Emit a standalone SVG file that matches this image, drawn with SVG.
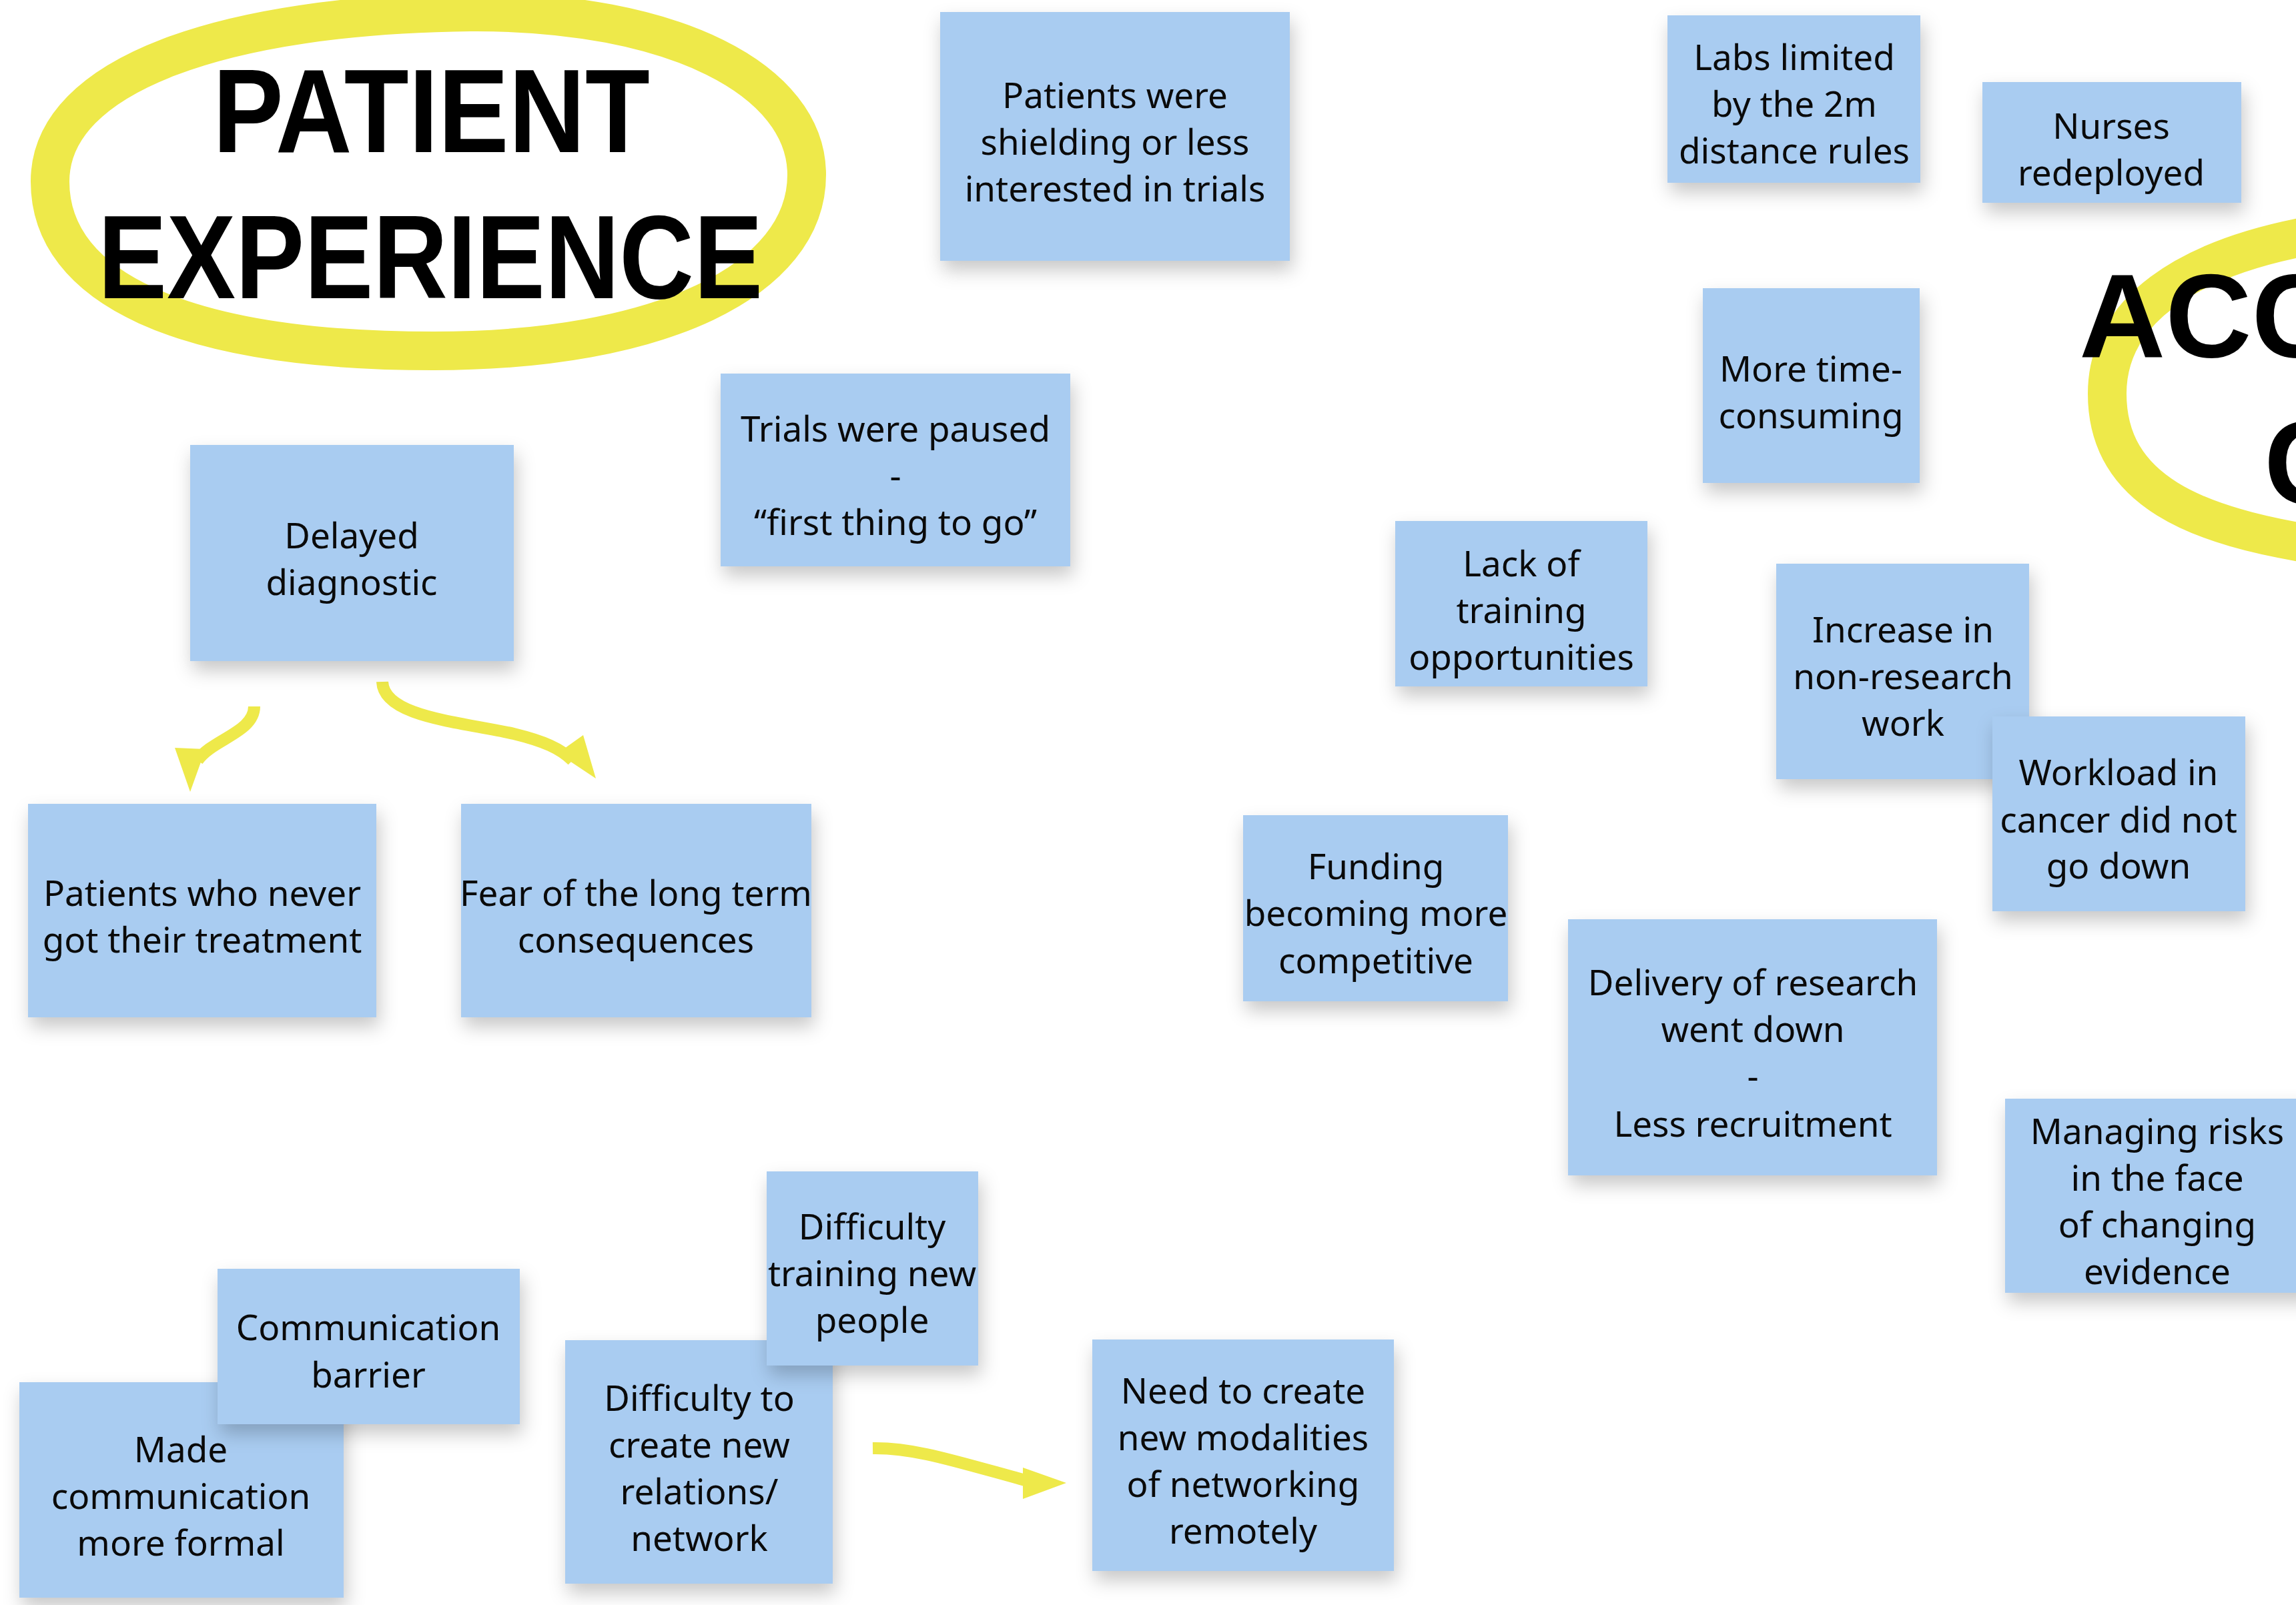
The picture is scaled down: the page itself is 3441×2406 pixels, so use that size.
<svg xmlns="http://www.w3.org/2000/svg" width="3441" height="2406" viewBox="0 0 3441 2406">
<defs>
<filter id="sh" x="-20%" y="-20%" width="150%" height="160%">
<feDropShadow dx="4" dy="14" stdDeviation="14" flood-color="#000" flood-opacity="0.22"/>
</filter>
<style>
.note{fill:#A9CCF1;filter:url(#sh)}
.t{font-family:"Noto Sans","Open Sans",sans-serif;font-size:53px;fill:#0a0a0a;text-anchor:middle}
.big{font-family:"Liberation Sans",Arial,sans-serif;font-weight:bold;font-size:179px;fill:#000}
.ring{fill:none;stroke:#EEE94A;stroke-width:58;stroke-linecap:round}
.con{fill:none;stroke:#EEE94A;stroke-width:18}
.head{fill:#EEE94A}
</style>
</defs>
<rect width="3441" height="2406" fill="#fff"/>

<g id="title-patient-experience">
<path class="ring" d="M705,18 C1010,16 1209,120 1209,262 C1209,420 990,526 650,526 C270,526 75,430 75,272 C75,110 340,22 705,18 Z"/>
<text class="big" x="319" y="228" textLength="655" lengthAdjust="spacingAndGlyphs">PATIENT</text>
<text class="big" x="147" y="447" textLength="996" lengthAdjust="spacingAndGlyphs">EXPERIENCE</text>
</g>

<g id="title-acc">
<path class="ring" d="M3480,350 C3270,385 3158,470 3158,590 C3158,735 3290,790 3480,818"/>
<text class="big" x="3116" y="535">ACC</text>
<text class="big" x="3393" y="755">C</text>
</g>

<g id="connectors">
<path class="con" d="M381,1059 C381,1098 318,1108 296,1140"/>
<polygon class="head" points="262,1121 308,1123 285,1187"/>
<path class="con" d="M573,1022 C575,1075 690,1082 770,1100 C815,1111 840,1122 858,1140"/>
<polygon class="head" points="874,1102 836,1129 893,1167"/>
<path class="con" d="M1308,2171 C1370,2170 1430,2190 1540,2220"/>
<polygon class="head" points="1533,2200 1533,2247 1598,2223"/>
</g>

<g id="n-patients-shielding">
<rect class="note" x="1409" y="18" width="524" height="373"/>
<text class="t" x="1671" y="162">Patients were</text>
<text class="t" x="1671" y="232">shielding or less</text>
<text class="t" x="1671" y="302">interested in trials</text>
</g>

<g id="n-labs-limited">
<rect class="note" x="2499" y="23" width="379" height="251"/>
<text class="t" x="2689" y="105">Labs limited</text>
<text class="t" x="2689" y="175">by the 2m</text>
<text class="t" x="2689" y="245">distance rules</text>
</g>

<g id="n-nurses">
<rect class="note" x="2971" y="123" width="388" height="181"/>
<text class="t" x="3164" y="208">Nurses</text>
<text class="t" x="3164" y="278">redeployed</text>
</g>

<g id="n-more-time">
<rect class="note" x="2552" y="432" width="325" height="292"/>
<text class="t" x="2714" y="572">More time-</text>
<text class="t" x="2714" y="642">consuming</text>
</g>

<g id="n-trials-paused">
<rect class="note" x="1080" y="560" width="524" height="289"/>
<text class="t" x="1342" y="662">Trials were paused</text>
<text class="t" x="1342" y="732">-</text>
<text class="t" x="1342" y="802">“first thing to go”</text>
</g>

<g id="n-delayed">
<rect class="note" x="285" y="667" width="485" height="324"/>
<text class="t" x="527" y="822">Delayed</text>
<text class="t" x="527" y="892">diagnostic</text>
</g>

<g id="n-lack-training">
<rect class="note" x="2091" y="781" width="378" height="248"/>
<text class="t" x="2280" y="864">Lack of</text>
<text class="t" x="2280" y="934">training</text>
<text class="t" x="2280" y="1004">opportunities</text>
</g>

<g id="n-increase">
<rect class="note" x="2662" y="845" width="379" height="323"/>
<text class="t" x="2852" y="963">Increase in</text>
<text class="t" x="2852" y="1033">non-research</text>
<text class="t" x="2852" y="1103">work</text>
</g>

<g id="n-workload">
<rect class="note" x="2986" y="1074" width="379" height="292"/>
<text class="t" x="3175" y="1177">Workload in</text>
<text class="t" x="3175" y="1248">cancer did not</text>
<text class="t" x="3175" y="1317">go down</text>
</g>

<g id="n-patients-never">
<rect class="note" x="42" y="1205" width="522" height="320"/>
<text class="t" x="303" y="1358">Patients who never</text>
<text class="t" x="303" y="1428">got their treatment</text>
</g>

<g id="n-fear">
<rect class="note" x="691" y="1205" width="525" height="320"/>
<text class="t" x="953" y="1358">Fear of the long term</text>
<text class="t" x="953" y="1428">consequences</text>
</g>

<g id="n-funding">
<rect class="note" x="1863" y="1222" width="397" height="279"/>
<text class="t" x="2062" y="1318">Funding</text>
<text class="t" x="2062" y="1388">becoming more</text>
<text class="t" x="2062" y="1459">competitive</text>
</g>

<g id="n-delivery">
<rect class="note" x="2350" y="1378" width="553" height="384"/>
<text class="t" x="2627" y="1492">Delivery of research</text>
<text class="t" x="2627" y="1562">went down</text>
<text class="t" x="2627" y="1632">-</text>
<text class="t" x="2627" y="1704">Less recruitment</text>
</g>

<g id="n-managing">
<rect class="note" x="3005" y="1647" width="460" height="291"/>
<text class="t" x="3233" y="1715">Managing risks</text>
<text class="t" x="3233" y="1785">in the face</text>
<text class="t" x="3233" y="1855">of changing</text>
<text class="t" x="3233" y="1925">evidence</text>
</g>

<g id="n-made-formal">
<rect class="note" x="29" y="2072" width="486" height="323"/>
<text class="t" x="271" y="2192">Made</text>
<text class="t" x="271" y="2262">communication</text>
<text class="t" x="271" y="2332">more formal</text>
</g>

<g id="n-comm-barrier">
<rect class="note" x="326" y="1902" width="453" height="233"/>
<text class="t" x="552" y="2009">Communication</text>
<text class="t" x="552" y="2080">barrier</text>
</g>

<g id="n-relations">
<rect class="note" x="847" y="2009" width="401" height="365"/>
<text class="t" x="1048" y="2115">Difficulty to</text>
<text class="t" x="1048" y="2185">create new</text>
<text class="t" x="1048" y="2255">relations/</text>
<text class="t" x="1048" y="2325">network</text>
</g>

<g id="n-training-new">
<rect class="note" x="1149" y="1756" width="317" height="291"/>
<text class="t" x="1307" y="1858">Difficulty</text>
<text class="t" x="1307" y="1928">training new</text>
<text class="t" x="1307" y="1998">people</text>
</g>

<g id="n-networking">
<rect class="note" x="1637" y="2008" width="452" height="347"/>
<text class="t" x="1863" y="2104">Need to create</text>
<text class="t" x="1863" y="2174">new modalities</text>
<text class="t" x="1863" y="2244">of networking</text>
<text class="t" x="1863" y="2314">remotely</text>
</g>
</svg>
